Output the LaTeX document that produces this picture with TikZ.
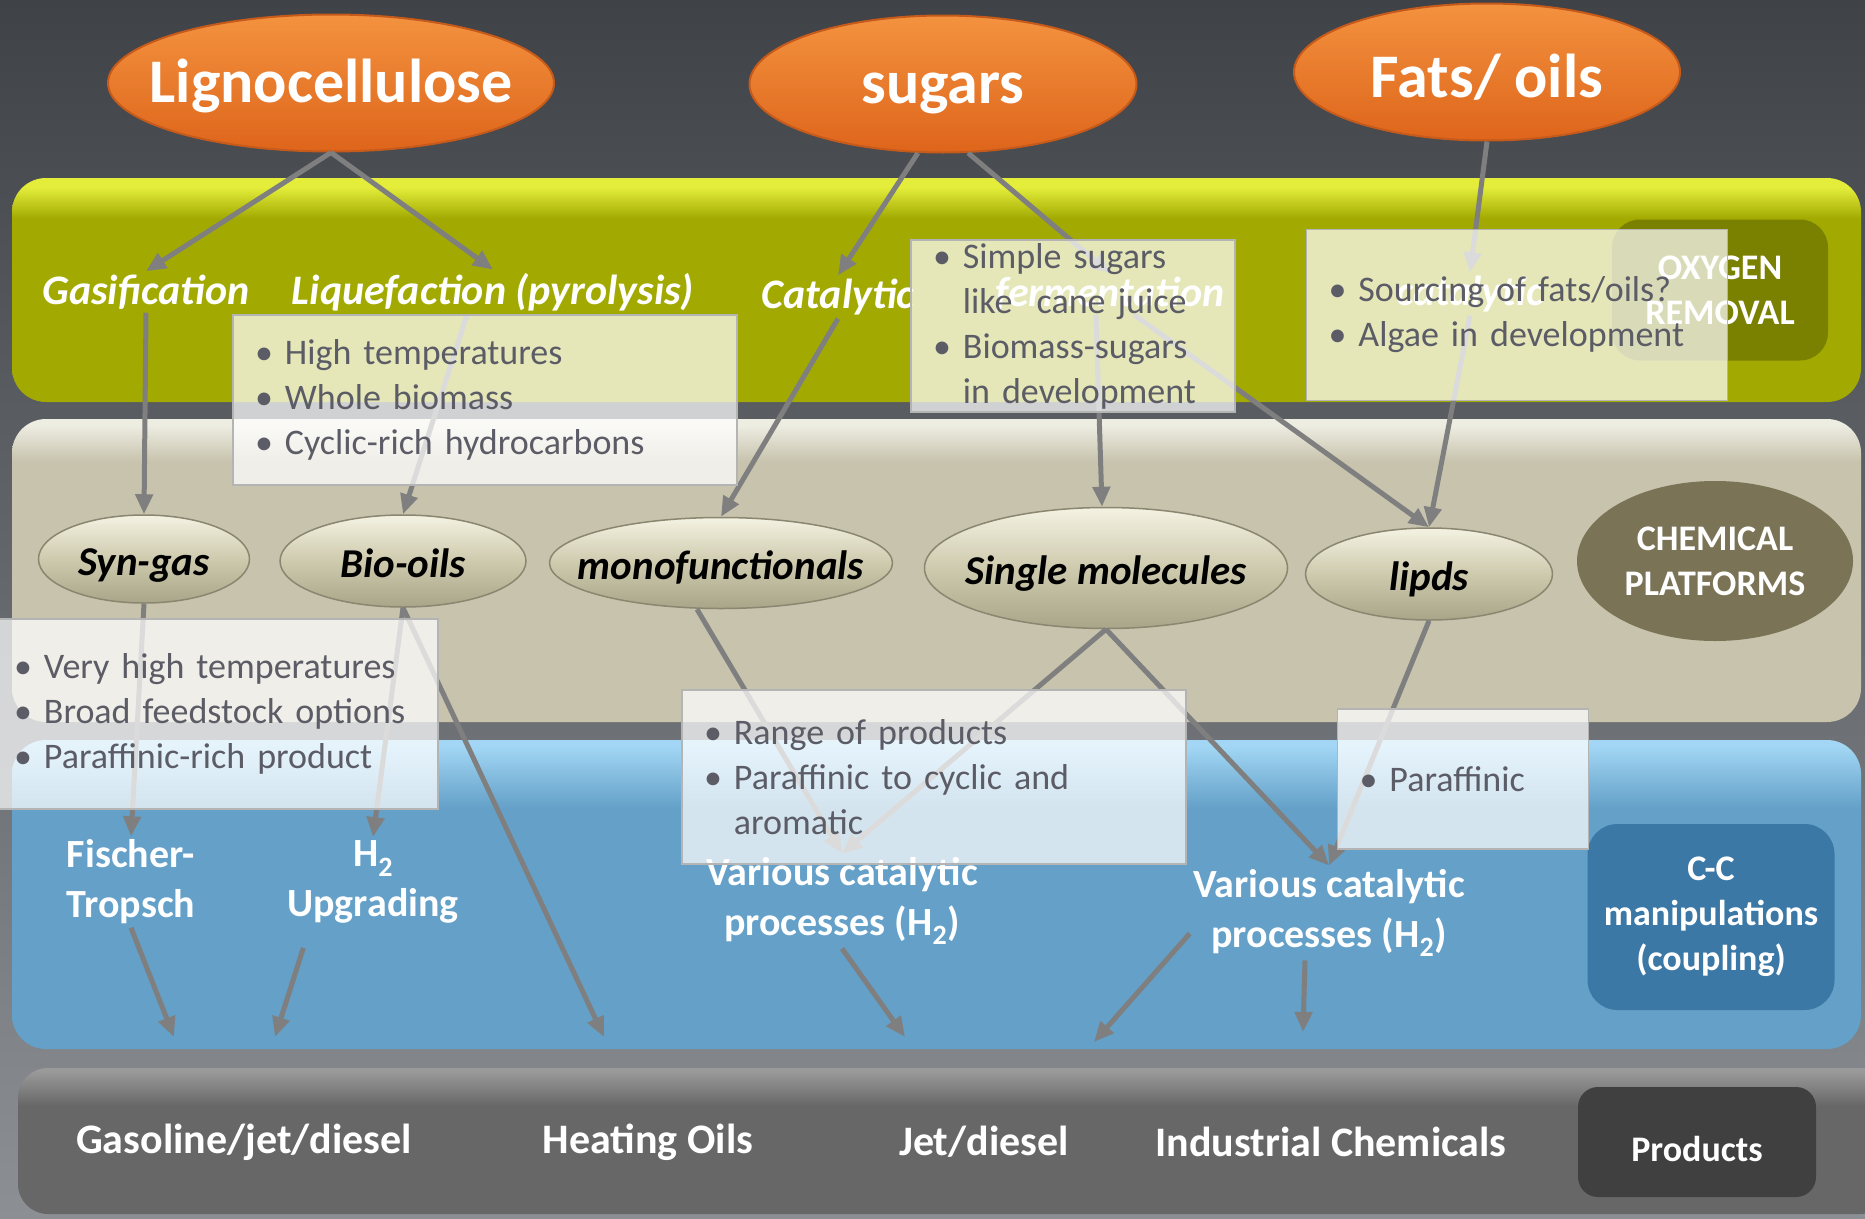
\documentclass[tikz,border=0pt]{standalone}
\usepackage{fontspec}
\setmainfont{Carlito}
\usetikzlibrary{arrows.meta, positioning, shapes.geometric}

\definecolor{BgTop}{HTML}{3F4247}
\definecolor{BgBot}{HTML}{8C8F94}
\definecolor{GreenBase}{HTML}{A2AA02}
\definecolor{GreenHi}{HTML}{E4EE3A}
\definecolor{BeigeBase}{HTML}{C7C3AD}
\definecolor{BeigeHi}{HTML}{EEEDE2}
\definecolor{BlueBase}{HTML}{64A0C8}
\definecolor{BlueHi}{HTML}{A2D6F4}
\definecolor{DarkBase}{HTML}{676767}
\definecolor{DarkHi}{HTML}{9A9A9A}
\definecolor{OrangeTop}{HTML}{F3923F}
\definecolor{OrangeBot}{HTML}{DE651B}
\definecolor{OrangeEdge}{HTML}{C65A1A}
\definecolor{PillTop}{HTML}{F4F2E2}
\definecolor{PillMid}{HTML}{CECAAE}
\definecolor{PillBot}{HTML}{A9A589}
\definecolor{PillEdge}{HTML}{8A8670}
\definecolor{OxyOlive}{HTML}{7A8000}
\definecolor{ChemBrown}{HTML}{7A7356}
\definecolor{CCBlue}{HTML}{3B78A5}
\definecolor{ProdGray}{HTML}{404040}
\definecolor{FlowGray}{HTML}{7F7F7F}
\definecolor{NoteText}{HTML}{5B5C66}
\definecolor{NoteEdge}{HTML}{B4B4B4}

\pgfdeclareverticalshading{greenband}{100bp}{color(0bp)=(GreenBase); color(66bp)=(GreenBase); color(73bp)=(GreenHi); color(100bp)=(GreenHi)}
\pgfdeclareverticalshading{beigeband}{100bp}{color(0bp)=(BeigeBase); color(68bp)=(BeigeBase); color(74bp)=(BeigeHi); color(100bp)=(BeigeHi)}
\pgfdeclareverticalshading{blueband}{100bp}{color(0bp)=(BlueBase); color(64bp)=(BlueBase); color(74bp)=(BlueHi); color(100bp)=(BlueHi)}
\pgfdeclareverticalshading{darkband}{100bp}{color(0bp)=(DarkBase); color(62bp)=(DarkBase); color(74bp)=(DarkHi); color(100bp)=(DarkHi)}

\begin{document}
\begin{tikzpicture}[x=1pt, y=-1pt,
    source/.style={ellipse, draw=OrangeEdge, line width=2pt, top color=OrangeTop, bottom color=OrangeBot, minimum height=137pt},
    sourcetext/.style={text=white, text height=44pt, text depth=6pt, font=\fontsize{62}{62}\selectfont\bfseries},
    pill/.style={ellipse, draw=PillEdge, line width=1.5pt, top color=PillTop, bottom color=PillBot, middle color=PillMid},
    pilltext/.style={text=black, text height=32pt, text depth=0pt, font=\fontsize{41}{41}\selectfont\bfseries\itshape},
    route/.style={text=white, font=\fontsize{42}{42}\selectfont\bfseries\itshape},
    process/.style={text=white, align=center, font=\fontsize{40}{50}\selectfont\bfseries},
    product/.style={text=white, font=\fontsize{42}{42}\selectfont\bfseries},
    tag/.style={text=white, align=center, font=\fontsize{36}{45}\selectfont\bfseries},
    note/.style={draw=NoteEdge, line width=1.5pt, fill=white, fill opacity=0.72, text opacity=1, text=NoteText, align=left, inner xsep=22pt, font=\fontsize{36}{45}\selectfont},
    flow/.style={draw=FlowGray, line width=5pt, -{Triangle[length=20pt, width=17pt]}}]

    % background and bands
    \useasboundingbox (0,0) rectangle (1865,1218);
    \fill[top color=BgTop, bottom color=BgBot] (0,0) rectangle (1865,1218);
    \shade[shading=greenband, rounded corners=34pt] (12,178) rectangle (1861,402);
    \shade[shading=beigeband, rounded corners=34pt] (12,419) rectangle (1861,722);
    \shade[shading=blueband, rounded corners=34pt] (12,740) rectangle (1861,1049);
    \shade[shading=darkband, rounded corners=30pt] (18,1068) rectangle (1890,1214);

    % band tags
    \node[tag, fill=OxyOlive, rounded corners=28pt, minimum width=216pt, minimum height=141pt] (oxygen) at (1720,290) {OXYGEN\\REMOVAL};
    \node[ellipse, fill=ChemBrown, minimum width=276pt, minimum height=160pt, label={[tag]center:CHEMICAL\\PLATFORMS}] (chem) at (1715,561) {};
    \node[tag, fill=CCBlue, rounded corners=30pt, minimum width=247pt, minimum height=186pt] (cc) at (1711,917) {C-C\\manipulations\\(coupling)};
    \node[tag, fill=ProdGray, rounded corners=20pt, minimum width=238pt, minimum height=110pt, text height=38pt, text depth=0pt] (prod) at (1697,1142) {Products};

    % feedstocks
    \node[source, minimum width=446pt, label={[sourcetext]center:Lignocellulose}] (ligno) at (331,83) {};
    \node[source, minimum width=387pt, label={[sourcetext]center:sugars}] (sugars) at (943,84) {};
    \node[source, minimum width=386pt, label={[sourcetext, yshift=-6pt]center:Fats/ oils}] (fats) at (1487,72) {};

    % oxygen removal routes
    \node[route] (gasif) at (146,292) {Gasification};
    \node[route] (liq) at (493,292) {Liquefaction (pyrolysis)};
    \node[route] (catal) at (838,297) {Catalytic};
    \node[route] (ferm) at (1110,294) {fermentation};
    \node[route] (cat2) at (1470,294) {catalytic};

    % chemical platforms
    \node[pill, minimum width=211pt, minimum height=88pt, label={[pilltext]center:Syn-gas}] (syngas) at (144,559) {};
    \node[pill, minimum width=246pt, minimum height=92pt, label={[pilltext]center:Bio-oils}] (biooils) at (403,561) {};
    \node[pill, minimum width=343pt, minimum height=91pt, label={[pilltext]center:monofunctionals}] (mono) at (721,563) {};
    \node[pill, minimum width=363pt, minimum height=121pt, label={[pilltext]center:Single molecules}] (single) at (1106,568) {};
    \node[pill, minimum width=247pt, minimum height=92pt, label={[pilltext]center:lipds}] (lipds) at (1429,574) {};

    % C-C processes
    \node[process] (ft) at (131,882) {Fischer-\\Tropsch};
    \node[process] (h2up) at (373,882) {H\textsubscript{2}\\Upgrading};
    \node[process] (vcl) at (842,901) {Various catalytic\\processes (H\textsubscript{2})};
    \node[process] (vcr) at (1329,913) {Various catalytic\\processes (H\textsubscript{2})};

    % products
    \node[product] (gasoline) at (244,1142) {Gasoline/jet/diesel};
    \node[product] (heat) at (648,1142) {Heating Oils};
    \node[product] (jet) at (984,1142) {Jet/diesel};
    \node[product] (indchem) at (1331,1142) {Industrial Chemicals};

    \coordinate (gasIn1) at (174,1037);
    \coordinate (gasIn2) at (275,1037);
    \coordinate (heatIn) at (604,1037);
    \coordinate (jetIn1) at (905,1037);
    \coordinate (jetIn2) at (1094,1042);
    \coordinate (chemIn) at (1303,1032);

    % flows
    \draw[flow] (ligno.south) -- (gasif.north);
    \draw[flow] (ligno.south) -- (liq.north);
    \draw[flow] (sugars.-110) -- (catal.north);
    \draw[flow] (sugars.-70) -- (ferm.north);
    \draw[flow] (fats.south) -- (cat2.north);

    \draw[flow] (gasif.south) -- (syngas.north);
    \draw[flow] ([xshift=-26pt]liq.south) -- (biooils.north);
    \draw[flow] (catal.south) -- (mono.north);
    \draw[flow] ([xshift=-14pt]ferm.south) -- ([xshift=-4pt]single.north);
    \draw[flow] ([xshift=24pt]ferm.south) -- (lipds.north);
    \draw[flow] (cat2.south) -- (lipds.north);

    \draw[flow] (syngas.south) -- (ft.north);
    \draw[flow] (biooils.south) -- (h2up.north);
    \draw[flow] (biooils.south) -- (heatIn);
    \draw[flow] ([xshift=-24pt]mono.south) -- (vcl.north);
    \draw[flow] (single.south) -- (vcl.north);
    \draw[flow] (single.south) -- (vcr.north);
    \draw[flow] (lipds.south) -- (vcr.north);

    \draw[flow] (ft.south) -- (gasIn1);
    \draw[flow, shorten <=22pt] ([xshift=-63pt]h2up.south) -- (gasIn2);
    \draw[flow] (vcl.south) -- (jetIn1);
    \draw[flow] ([yshift=27pt]vcr.south west) -- (jetIn2);
    \draw[flow] ([xshift=-24pt]vcr.south) -- (chemIn);

    % notes
    \node[note, text width=460pt, minimum height=170pt] (noteLiq) at (485,400) {\textbullet\ High temperatures\\\textbullet\ Whole biomass\\\textbullet\ Cyclic-rich hydrocarbons};
    \node[note, text width=280pt, minimum height=172pt] (noteSug) at (1073,326) {\textbullet\ Simple sugars\\\phantom{\textbullet\ }like~ cane juice\\\textbullet\ Biomass-sugars\\\phantom{\textbullet\ }in development};
    \node[note, text width=377pt, minimum height=171pt] (noteFat) at (1517,315) {\textbullet\ Sourcing of fats/oils?\\\textbullet\ Algae in development};
    \node[note, text width=402pt, minimum height=190pt] (noteGas) at (215,714) {\textbullet\ Very high temperatures\\\textbullet\ Broad feedstock options\\\textbullet\ Paraffinic-rich product};
    \node[note, text width=460pt, minimum height=174pt] (noteMono) at (934,777) {\textbullet\ Range of products\\\textbullet\ Paraffinic to cyclic and\\\phantom{\textbullet\ }aromatic};
    \node[note, text width=207pt, minimum height=140pt] (noteLip) at (1463,779) {\textbullet\ Paraffinic};
\end{tikzpicture}
\end{document}
